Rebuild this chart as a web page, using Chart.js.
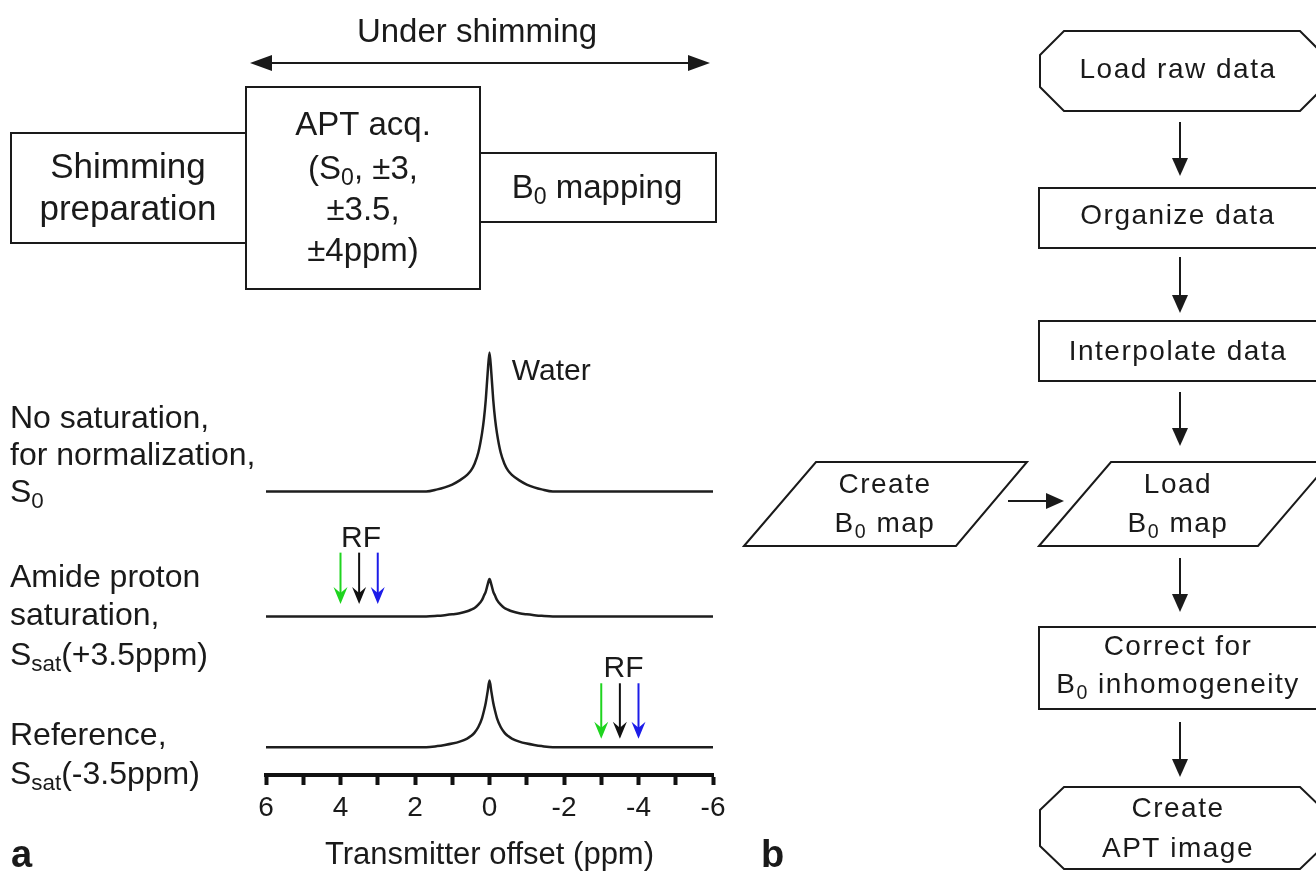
<!DOCTYPE html>
<html>
<head>
<meta charset="utf-8">
<script src="https://cdn.jsdelivr.net/npm/chart.js@4.4.1/dist/chart.umd.min.js"></script>
<style>
html, body { margin: 0; padding: 0; background: #fff; }
#wrap { position: relative; width: 1316px; height: 871px; }
</style>
</head>
<body>
<div id="wrap"><canvas id="spectraChart"></canvas></div>
<script>
const offsetsPpm = [6, 1.7, 1.4, 1.2, 1.0, 0.8, 0.6, 0.5, 0.4, 0.3, 0.2, 0.15, 0.1, 0.05, 0,
  -0.05, -0.1, -0.15, -0.2, -0.3, -0.4, -0.5, -0.6, -0.8, -1.0, -1.2, -1.4, -1.7, -6];
// signal, S0 peak = 100
const signalS0 = [0, 0, 1.5, 3, 5, 8, 12, 15, 20, 28, 42, 52, 66, 85, 100,
  85, 66, 52, 42, 28, 20, 15, 12, 8, 5, 3, 1.5, 0, 0];
const signalSatPos = [0, 0, 0.5, 1, 1.6, 2.4, 3.8, 4.9, 6.2, 8.6, 12, 15, 18, 23, 27,
  23, 18, 15, 12, 8.6, 6.2, 4.9, 3.8, 2.4, 1.6, 1, 0.5, 0, 0];
const signalSatNeg = [0, 0, 0.8, 1.6, 2.6, 4, 6.2, 8, 10.5, 14.5, 21, 26, 32, 40, 48,
  40, 32, 26, 21, 14.5, 10.5, 8, 6.2, 4, 2.6, 1.6, 0.8, 0, 0];
const xTickLabels = [6, 4, 2, 0, -2, -4, -6];
// RF saturation offsets (ppm)
const rfAmide = [4, 3.5, 3];
const rfReference = [-3, -3.5, -4];
const rfColors = ['#1fd41f', '#111111', '#1c1ce8'];

// vertical stacking of the three traces
const traceBase = [204, 114, 20];
const FONT = '"Liberation Sans", Arial, sans-serif';
const INK = '#1a1a1a';

function toPoints(vals, base) {
  return offsetsPpm.map((x, i) => ({ x: x, y: vals[i] + base }));
}

function richText(ctx, parts, x, y, size, align, spacing) {
  ctx.letterSpacing = (spacing || 0) + 'px';
  let w = 0;
  parts.forEach(p => {
    ctx.font = (p[1] ? size * 0.7 : size) + 'px ' + FONT;
    w += ctx.measureText(p[0]).width;
  });
  let cx = align === 'left' ? x : x - w / 2;
  const base = y + size * 0.36;
  ctx.textAlign = 'left';
  ctx.textBaseline = 'alphabetic';
  parts.forEach(p => {
    ctx.font = (p[1] ? size * 0.7 : size) + 'px ' + FONT;
    ctx.fillText(p[0], cx, p[1] ? base + size * 0.2 : base);
    cx += ctx.measureText(p[0]).width;
  });
  ctx.letterSpacing = '0px';
}

function poly(ctx, pts) {
  ctx.beginPath();
  ctx.moveTo(pts[0][0], pts[0][1]);
  pts.slice(1).forEach(p => ctx.lineTo(p[0], p[1]));
  ctx.closePath();
  ctx.stroke();
}

function arrowDown(ctx, x, y1, y2) {
  ctx.beginPath();
  ctx.moveTo(x, y1);
  ctx.lineTo(x, y2 - 10);
  ctx.stroke();
  ctx.beginPath();
  ctx.moveTo(x, y2);
  ctx.lineTo(x - 8, y2 - 18);
  ctx.lineTo(x + 8, y2 - 18);
  ctx.closePath();
  ctx.fill();
}

function rfArrow(ctx, x, y1, y2, color) {
  ctx.strokeStyle = color;
  ctx.fillStyle = color;
  ctx.lineWidth = 2;
  ctx.beginPath();
  ctx.moveTo(x, y1);
  ctx.lineTo(x, y2 - 8);
  ctx.stroke();
  ctx.beginPath();
  ctx.moveTo(x, y2);
  ctx.lineTo(x - 7, y2 - 17);
  ctx.lineTo(x, y2 - 11);
  ctx.lineTo(x + 7, y2 - 17);
  ctx.closePath();
  ctx.fill();
}

const diagram = {
  id: 'diagram',
  afterDraw(chart) {
    const ctx = chart.ctx;
    const xs = chart.scales.x, ys = chart.scales.y;
    ctx.save();
    ctx.fillStyle = INK;
    ctx.strokeStyle = INK;
    ctx.lineWidth = 2;

    // --- panel a: timing boxes ---
    richText(ctx, [['Under shimming']], 477, 30, 33);
    ctx.beginPath(); ctx.moveTo(262, 63); ctx.lineTo(698, 63); ctx.stroke();
    ctx.beginPath(); ctx.moveTo(250, 63); ctx.lineTo(272, 55); ctx.lineTo(272, 71); ctx.closePath(); ctx.fill();
    ctx.beginPath(); ctx.moveTo(710, 63); ctx.lineTo(688, 55); ctx.lineTo(688, 71); ctx.closePath(); ctx.fill();

    ctx.strokeRect(11, 133, 235, 110);
    ctx.strokeRect(246, 87, 234, 202);
    ctx.strokeRect(480, 153, 236, 69);
    richText(ctx, [['Shimming']], 128, 165, 35);
    richText(ctx, [['preparation']], 128, 207, 35);
    richText(ctx, [['APT acq.']], 363, 123, 33);
    richText(ctx, [['(S'], ['0', 1], [', \u00b13,']], 363, 167, 33);
    richText(ctx, [['\u00b13.5,']], 363, 208, 33);
    richText(ctx, [['\u00b14ppm)']], 363, 249, 33);
    richText(ctx, [['B'], ['0', 1], [' mapping']], 597, 186, 33);

    // --- panel a: trace labels ---
    const L = 32;
    richText(ctx, [['No saturation,']], 10, 416, L, 'left');
    richText(ctx, [['for normalization,']], 10, 453, L, 'left');
    richText(ctx, [['S'], ['0', 1]], 10, 490, L, 'left');
    richText(ctx, [['Amide proton']], 10, 575, L, 'left');
    richText(ctx, [['saturation,']], 10, 613, L, 'left');
    richText(ctx, [['S'], ['sat', 1], ['(+3.5ppm)']], 10, 653, L, 'left');
    richText(ctx, [['Reference,']], 10, 733, L, 'left');
    richText(ctx, [['S'], ['sat', 1], ['(-3.5ppm)']], 10, 772, L, 'left');

    richText(ctx, [['Water']], xs.getPixelForValue(-0.6), ys.getPixelForValue(292), 30, 'left');

    // RF saturation arrows
    richText(ctx, [['RF']], xs.getPixelForValue(3.45), ys.getPixelForValue(172), 30);
    rfAmide.forEach((p, i) => rfArrow(ctx, xs.getPixelForValue(p), ys.getPixelForValue(160), ys.getPixelForValue(123), rfColors[i]));
    ctx.fillStyle = INK;
    richText(ctx, [['RF']], xs.getPixelForValue(-3.6), ys.getPixelForValue(78), 30);
    rfReference.forEach((p, i) => rfArrow(ctx, xs.getPixelForValue(p), ys.getPixelForValue(66), ys.getPixelForValue(26), rfColors[i]));

    ctx.fillStyle = INK;
    ctx.strokeStyle = INK;
    ctx.lineWidth = 2;
    ctx.font = 'bold 38px ' + FONT;
    ctx.textAlign = 'left';
    ctx.textBaseline = 'alphabetic';
    ctx.fillText('a', 11, 867);
    ctx.fillText('b', 761, 867);

    // --- panel b: flowchart ---
    const fs = 28, sp = 1.5, cx = 1178;
    poly(ctx, [[1040, 55], [1064, 31], [1300, 31], [1324, 55], [1324, 87], [1300, 111], [1064, 111], [1040, 87]]);
    richText(ctx, [['Load raw data']], cx, 68, fs, 'center', sp);
    arrowDown(ctx, 1180, 122, 176);
    ctx.strokeRect(1039, 188, 290, 60);
    richText(ctx, [['Organize data']], cx, 214, fs, 'center', sp);
    arrowDown(ctx, 1180, 257, 313);
    ctx.strokeRect(1039, 321, 290, 60);
    richText(ctx, [['Interpolate data']], cx, 350, fs, 'center', sp);
    arrowDown(ctx, 1180, 392, 446);

    poly(ctx, [[744, 546], [816, 462], [1027, 462], [956, 546]]);
    richText(ctx, [['Create']], 885, 483, fs, 'center', sp);
    richText(ctx, [['B'], ['0', 1], [' map']], 885, 522, fs, 'center', sp);
    ctx.beginPath(); ctx.moveTo(1008, 501); ctx.lineTo(1050, 501); ctx.stroke();
    ctx.beginPath(); ctx.moveTo(1064, 501); ctx.lineTo(1046, 493); ctx.lineTo(1046, 509); ctx.closePath(); ctx.fill();

    poly(ctx, [[1039, 546], [1111, 462], [1330, 462], [1258, 546]]);
    richText(ctx, [['Load']], cx, 483, fs, 'center', sp);
    richText(ctx, [['B'], ['0', 1], [' map']], cx, 522, fs, 'center', sp);
    arrowDown(ctx, 1180, 558, 612);

    ctx.strokeRect(1039, 627, 290, 82);
    richText(ctx, [['Correct for']], cx, 645, fs, 'center', sp);
    richText(ctx, [['B'], ['0', 1], [' inhomogeneity']], cx, 683, fs, 'center', sp);
    arrowDown(ctx, 1180, 722, 777);

    poly(ctx, [[1040, 810], [1064, 787], [1300, 787], [1324, 810], [1324, 846], [1300, 869], [1064, 869], [1040, 846]]);
    richText(ctx, [['Create']], cx, 807, fs, 'center', sp);
    richText(ctx, [['APT image']], cx, 847, fs, 'center', sp);

    ctx.restore();
  }
};

const traceStyle = { borderColor: '#1e1e1e', borderWidth: 2.5, pointRadius: 0, fill: false, cubicInterpolationMode: 'monotone' };

new Chart(document.getElementById('spectraChart'), {
  type: 'line',
  data: {
    datasets: [
      Object.assign({ label: 'S0', data: toPoints(signalS0, traceBase[0]) }, traceStyle),
      Object.assign({ label: 'Ssat(+3.5ppm)', data: toPoints(signalSatPos, traceBase[1]) }, traceStyle),
      Object.assign({ label: 'Ssat(-3.5ppm)', data: toPoints(signalSatNeg, traceBase[2]) }, traceStyle)
    ]
  },
  options: {
    responsive: true,
    maintainAspectRatio: false,
    devicePixelRatio: 1,
    animation: false,
    layout: { padding: { left: 266, right: 603, top: 340, bottom: 0 } },
    plugins: { legend: { display: false }, tooltip: { enabled: false } },
    scales: {
      x: {
        type: 'linear',
        reverse: true,
        min: -6,
        max: 6,
        afterBuildTicks: (axis) => {
          const t = [];
          for (let v = 6; v >= -6; v--) t.push({ value: v });
          axis.ticks = t;
        },
        afterFit: (axis) => { axis.height = 96; },
        ticks: {
          autoSkip: false,
          maxRotation: 0,
          padding: 6,
          color: INK,
          font: { family: FONT, size: 28 },
          callback: (v) => xTickLabels.includes(v) ? String(v) : ''
        },
        grid: { drawOnChartArea: false, drawTicks: true, tickLength: 10, tickWidth: 4, tickColor: '#111' },
        border: { display: true, color: '#111', width: 4 },
        title: {
          display: true,
          text: 'Transmitter offset (ppm)',
          color: INK,
          font: { family: FONT, size: 31, lineHeight: 1 },
          padding: { top: 0, bottom: 0 }
        }
      },
      y: { type: 'linear', display: false, min: 0, max: 313 }
    }
  },
  plugins: [diagram]
});
</script>
</body>
</html>
